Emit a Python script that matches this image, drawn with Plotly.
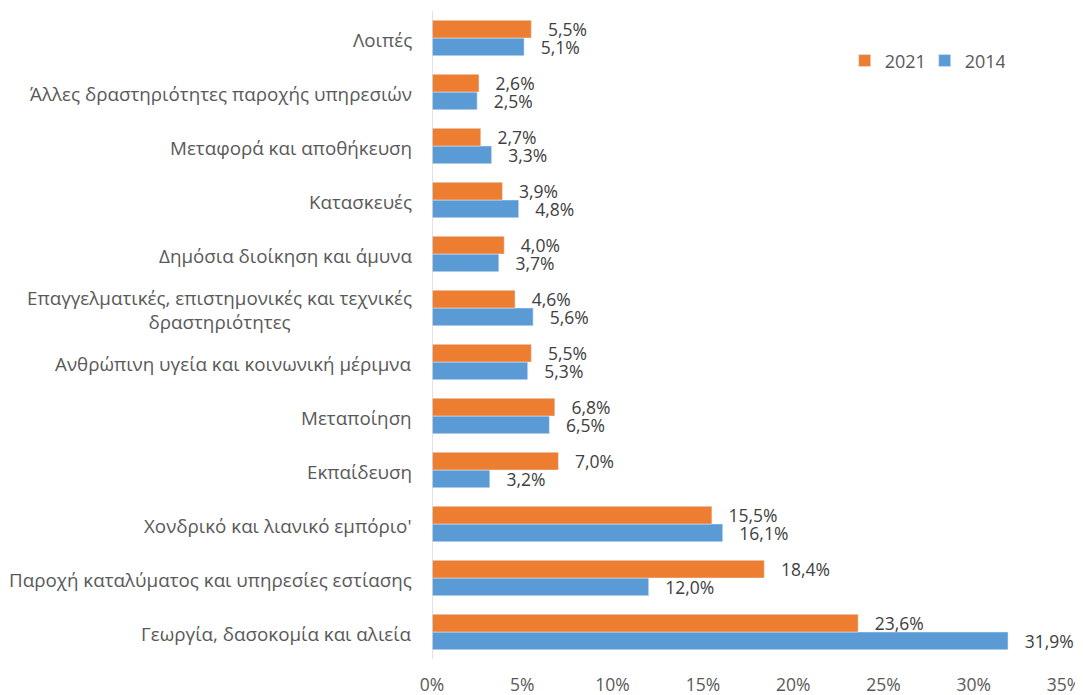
import plotly.graph_objects as go

categories = [
    "Γεωργία, δασοκομία και αλιεία",
    "Παροχή καταλύματος και υπηρεσίες εστίασης",
    "Χονδρικό και λιανικό εμπόριο'",
    "Εκπαίδευση",
    "Μεταποίηση",
    "Ανθρώπινη υγεία και κοινωνική μέριμνα",
    "Επαγγελματικές, επιστημονικές και τεχνικές<br>δραστηριότητες",
    "Δημόσια διοίκηση και άμυνα",
    "Κατασκευές",
    "Μεταφορά και αποθήκευση",
    "Άλλες δραστηριότητες παροχής υπηρεσιών",
    "Λοιπές",
]
values_2021 = [23.6, 18.4, 15.5, 7.0, 6.8, 5.5, 4.6, 4.0, 3.9, 2.7, 2.6, 5.5]
values_2014 = [31.9, 12.0, 16.1, 3.2, 6.5, 5.3, 5.6, 3.7, 4.8, 3.3, 2.5, 5.1]
tick_vals = [0, 5, 10, 15, 20, 25, 30, 35]
tick_text = ["0%", "5%", "10%", "15%", "20%", "25%", "30%", "35%"]

def fmt(v):
    return "\u00a0\u00a0\u00a0" + f"{v:.1f}%".replace(".", ",")

FONT = "Open Sans"
idx = list(range(len(categories)))

fig = go.Figure()
fig.add_trace(go.Bar(
    y=idx, x=values_2014, orientation="h", name="2014",
    marker=dict(color="#5B9BD5"),
    text=[fmt(v) for v in values_2014], textposition="outside",
    constraintext="none",
    textfont=dict(family=FONT, size=17.5, color="#404040"),
    cliponaxis=False,
))
fig.add_trace(go.Bar(
    y=idx, x=values_2021, orientation="h", name="2021",
    marker=dict(color="#ED7D31"),
    text=[fmt(v) for v in values_2021], textposition="outside",
    constraintext="none",
    textfont=dict(family=FONT, size=17.5, color="#404040"),
    cliponaxis=False,
))

for i, c in enumerate(categories):
    fig.add_annotation(
        x=0, xref="paper", y=i, yref="y", text=c, showarrow=False,
        xanchor="right", yanchor="middle", align="center", xshift=-18, yshift=-2,
        font=dict(family=FONT, size=18.8, color="#595959"),
    )

# page has an 8px body margin, so figure is sized/offset to compensate
fig.update_layout(
    width=1075, height=687,
    margin=dict(l=424, r=19, t=2.5, b=36, autoexpand=False),
    paper_bgcolor="white", plot_bgcolor="white",
    barmode="group", bargap=0.345, bargroupgap=0,
    font=dict(family=FONT, color="#595959"),
    showlegend=True,
    legend=dict(orientation="h", x=0.653, y=0.923, xanchor="left", yanchor="middle",
                traceorder="reversed", font=dict(family=FONT, size=18, color="#595959"),
                itemwidth=30, entrywidth=35, entrywidthmode="pixels",
                bgcolor="rgba(0,0,0,0)"),
    xaxis=dict(range=[0, 35], tickvals=tick_vals, ticktext=tick_text,
               showgrid=False, zeroline=False, showline=False, automargin=False,
               tickfont=dict(family=FONT, size=17.5, color="#595959"),
               ticks="", ticklabelstandoff=13),
    yaxis=dict(range=[-0.5, len(categories) - 0.5], showticklabels=False, automargin=False,
               showgrid=False, zeroline=False, showline=False, ticks=""),
)
fig.add_shape(type="line", xref="x", yref="paper", x0=0, x1=0, y0=0, y1=1,
              line=dict(color="#D9D9D9", width=1.5))

fig.write_html("out.html")
